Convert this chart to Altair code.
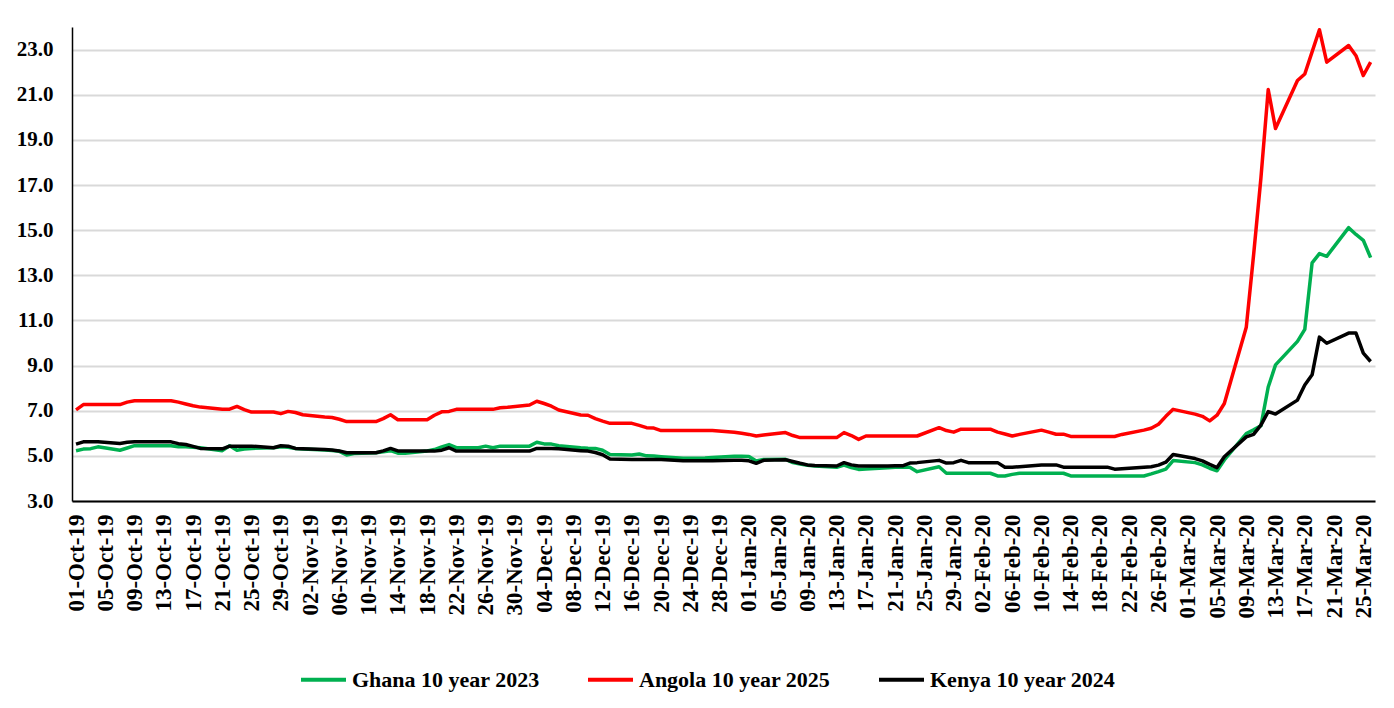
import altair as alt
import pandas as pd

# Weekday observation dates (1 Oct 2019 - 26 Mar 2020)
dates = pd.bdate_range("2019-10-01", "2020-03-26")

series_names = ["Ghana 10 year 2023", "Angola 10 year 2025", "Kenya 10 year 2024"]
series_colors = ["#00B050", "#FF0000", "#000000"]

ghana = [
    5.23, 5.30, 5.32, 5.40, 5.25, 5.35, 5.45, 5.45, 5.45, 5.45, 5.40, 5.40, 5.38, 5.36, 5.23, 5.45, 5.25, 5.30, 5.33, 5.36, 5.40, 5.38, 5.33,
    5.30, 5.26, 5.24, 5.20, 5.04, 5.10, 5.14, 5.18, 5.23, 5.12, 5.12, 5.22, 5.28, 5.40, 5.50, 5.36, 5.36, 5.43, 5.36, 5.43, 5.43,
    5.43, 5.60, 5.53, 5.52, 5.45, 5.36, 5.34, 5.33, 5.25, 5.06, 5.04, 5.08, 5.00, 4.99, 4.96, 4.89, 4.89, 4.89, 4.90, 4.93, 4.98, 4.98,
    4.97, 4.77, 4.84, 4.85, 4.70, 4.64, 4.58, 4.55, 4.49, 4.59, 4.48, 4.40, 4.42, 4.47, 4.49, 4.49, 4.50, 4.30, 4.52, 4.23, 4.23, 4.23, 4.23,
    4.23, 4.11, 4.11, 4.18, 4.23, 4.23, 4.23, 4.23, 4.23, 4.11, 4.11, 4.11, 4.11, 4.11, 4.11, 4.11, 4.20, 4.30, 4.41, 4.79,
    4.70, 4.60, 4.45, 4.34, 4.82, 5.99, 6.15, 6.33, 8.05, 9.03, 10.07, 10.60, 13.55, 13.96, 13.84, 15.11, 14.81, 14.55, 13.78,
]

angola = [
    7.04, 7.27, 7.27, 7.27, 7.27, 7.38, 7.44, 7.44, 7.44, 7.44, 7.38, 7.30, 7.22, 7.16, 7.07, 7.07, 7.19, 7.05, 6.94, 6.94, 6.87, 6.97, 6.92,
    6.82, 6.72, 6.70, 6.62, 6.52, 6.52, 6.52, 6.65, 6.82, 6.60, 6.60, 6.60, 6.80, 6.95, 6.97, 7.06, 7.06, 7.06, 7.06, 7.13, 7.15,
    7.25, 7.42, 7.32, 7.20, 7.03, 6.81, 6.80, 6.65, 6.54, 6.44, 6.44, 6.35, 6.25, 6.23, 6.12, 6.12, 6.12, 6.12, 6.12, 6.12, 6.05, 6.00,
    5.95, 5.88, 5.92, 6.03, 5.90, 5.81, 5.81, 5.81, 5.81, 6.03, 5.90, 5.73, 5.88, 5.88, 5.88, 5.88, 5.88, 5.88, 6.25, 6.12, 6.05, 6.18, 6.18,
    6.18, 6.05, 5.97, 5.88, 5.95, 6.14, 6.05, 5.96, 5.96, 5.86, 5.86, 5.86, 5.86, 5.86, 5.95, 6.14, 6.22, 6.40, 6.75, 7.06,
    6.85, 6.75, 6.55, 6.80, 7.32, 10.70, 13.90, 17.30, 21.23, 19.50, 21.63, 21.92, 22.90, 23.88, 22.44, 23.18, 22.73, 21.85, 22.44,
]

kenya = [
    5.52, 5.62, 5.62, 5.62, 5.55, 5.60, 5.62, 5.62, 5.62, 5.62, 5.54, 5.50, 5.42, 5.33, 5.31, 5.43, 5.43, 5.43, 5.43, 5.36, 5.45, 5.43, 5.33,
    5.32, 5.28, 5.26, 5.22, 5.14, 5.14, 5.14, 5.22, 5.33, 5.22, 5.21, 5.21, 5.21, 5.25, 5.36, 5.21, 5.21, 5.21, 5.21, 5.21, 5.21,
    5.21, 5.33, 5.33, 5.33, 5.31, 5.23, 5.21, 5.15, 5.05, 4.86, 4.84, 4.84, 4.84, 4.84, 4.84, 4.78, 4.78, 4.78, 4.78, 4.78, 4.80, 4.80,
    4.78, 4.67, 4.80, 4.83, 4.75, 4.67, 4.60, 4.57, 4.55, 4.70, 4.60, 4.55, 4.55, 4.55, 4.56, 4.56, 4.68, 4.70, 4.80, 4.68, 4.70, 4.80, 4.70,
    4.70, 4.70, 4.50, 4.50, 4.52, 4.60, 4.60, 4.60, 4.50, 4.50, 4.50, 4.50, 4.50, 4.41, 4.43, 4.50, 4.52, 4.59, 4.72, 5.06,
    4.88, 4.78, 4.62, 4.48, 4.96, 5.84, 5.95, 6.36, 6.96, 6.85, 7.47, 8.14, 8.59, 10.26, 9.99, 10.44, 10.44, 9.55, 9.18,
]

tick_labels = [
    "01-Oct-19", "05-Oct-19", "09-Oct-19", "13-Oct-19", "17-Oct-19", "21-Oct-19", "25-Oct-19", "29-Oct-19",
    "02-Nov-19", "06-Nov-19", "10-Nov-19", "14-Nov-19", "18-Nov-19", "22-Nov-19", "26-Nov-19", "30-Nov-19",
    "04-Dec-19", "08-Dec-19", "12-Dec-19", "16-Dec-19", "20-Dec-19", "24-Dec-19", "28-Dec-19",
    "01-Jan-20", "05-Jan-20", "09-Jan-20", "13-Jan-20", "17-Jan-20", "21-Jan-20", "25-Jan-20", "29-Jan-20",
    "02-Feb-20", "06-Feb-20", "10-Feb-20", "14-Feb-20", "18-Feb-20", "22-Feb-20", "26-Feb-20",
    "01-Mar-20", "05-Mar-20", "09-Mar-20", "13-Mar-20", "17-Mar-20", "21-Mar-20", "25-Mar-20",
]
y_ticks = [3, 5, 7, 9, 11, 13, 15, 17, 19, 21, 23]

start = pd.Timestamp("2019-10-01")
day = [(d - start).days for d in dates]
tick_days = [4 * i for i in range(len(tick_labels))]

rows = []
for name, vals in zip(series_names, [ghana, angola, kenya]):
    for d, v in zip(day, vals):
        rows.append({"day": d, "value": v, "series": name})
df = pd.DataFrame(rows)

label_array = "[" + ",".join("'" + t + "'" for t in tick_labels) + "]"

FONT = "Liberation Serif"

chart = (
    alt.Chart(df)
    .mark_line(strokeWidth=3.5, strokeJoin="round")
    .encode(
        x=alt.X(
            "day:Q",
            scale=alt.Scale(domain=[-0.55, 177.6], nice=False, zero=False),
            axis=alt.Axis(
                values=tick_days,
                labelExpr=label_array + "[round(datum.value/4)]",
                labelAngle=270,
                labelOverlap=False,
                grid=False,
                ticks=False,
                domainColor="black",
                domainWidth=2,
                labelPadding=13,
                labelFont=FONT,
                labelFontWeight="bold",
                labelFontSize=23,
                labelColor="black",
                title=None,
            ),
        ),
        y=alt.Y(
            "value:Q",
            scale=alt.Scale(domain=[3, 24], nice=False, zero=False),
            axis=alt.Axis(
                values=y_ticks,
                format=".1f",
                grid=True,
                gridColor="#d9d9d9",
                gridWidth=2,
                ticks=False,
                domainColor="black",
                domainWidth=1.5,
                labelPadding=19,
                labelFont=FONT,
                labelFontWeight="bold",
                labelFontSize=21,
                labelColor="black",
                title=None,
            ),
        ),
        color=alt.Color(
            "series:N",
            scale=alt.Scale(domain=series_names, range=series_colors),
            sort=series_names,
            legend=alt.Legend(
                orient="none",
                legendX=227,
                legendY=628,
                direction="horizontal",
                title=None,
                symbolType="stroke",
                symbolStrokeWidth=4,
                symbolSize=2025,
                labelFont=FONT,
                labelFontWeight="bold",
                labelFontSize=22,
                labelColor="black",
                labelLimit=0,
                labelOffset=4,
                columnPadding=40,
            ),
        ),
    )
    .properties(
        width=1303,
        height=474,
        padding={"left": 64, "top": 19, "right": 8, "bottom": 192},
        autosize=alt.AutoSizeParams(type="none"),
    )
    .configure_view(strokeWidth=0)
)

chart.save("out.html", embed_options={"renderer": "svg", "actions": False})
